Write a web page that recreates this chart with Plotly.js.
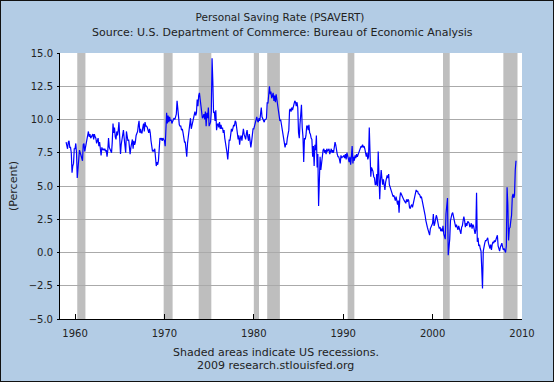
<!DOCTYPE html>
<html>
<head>
<meta charset="utf-8">
<script src="https://cdn.plot.ly/plotly-3.0.1.min.js"></script>
<style>
html,body{margin:0;padding:0;background:#fff;}
#wrap{position:relative;width:554px;height:382px;}
#chart{position:absolute;left:0;top:0;width:554px;height:382px;}
#frame{position:absolute;left:0;top:0;width:554px;height:382px;box-sizing:border-box;border:1px solid #111;pointer-events:none;}
</style>
</head>
<body>
<div id="wrap"><div id="chart"></div><div id="frame"></div></div>
<script>
// Monthly personal saving rate (percent), Jan 1959 .. May 2009
const startYear = 1959;
const savingRate = [
  8.3, 7.9, 7.8, 8.3, 8.4, 7.9, 7.9, 7.5, 6.0, 6.5, 6.7, 7.8,   // 1959
  7.8, 8.2, 7.5, 5.6, 6.3, 7.5, 7.7, 7.5, 7.3, 7.1, 6.9, 8.1,   // 1960
  8.2, 7.6, 7.9, 8.0, 8.3, 8.8, 9.1, 8.7, 8.9, 8.6, 8.7, 8.8,   // 1961
  8.9, 8.5, 8.9, 8.7, 8.6, 8.2, 8.5, 8.6, 8.0, 8.3, 7.8, 7.3,   // 1962
  7.9, 7.7, 7.8, 7.7, 7.8, 7.6, 7.7, 7.2, 7.7, 8.6, 7.9, 7.8,   // 1963
  7.7, 7.5, 8.3, 9.7, 9.0, 9.4, 8.7, 8.5, 9.1, 8.8, 9.2, 9.8,   // 1964
  8.6, 7.4, 8.1, 8.6, 8.9, 9.2, 8.6, 8.0, 7.5, 9.1, 8.7, 8.4,   // 1965
  8.5, 7.6, 7.4, 7.9, 8.2, 8.5, 7.8, 8.4, 8.1, 8.3, 8.8, 8.9,   // 1966
  9.1, 9.6, 9.9, 9.0, 9.3, 9.0, 9.0, 9.4, 9.7, 9.1, 9.8, 9.5,   // 1967
  9.5, 9.4, 9.2, 9.0, 9.3, 9.0, 8.4, 7.7, 7.6, 7.7, 7.6, 7.8,   // 1968
  7.2, 6.5, 6.8, 6.6, 6.9, 7.9, 8.6, 8.5, 8.6, 8.4, 8.6, 8.5,   // 1969
  8.4, 8.0, 9.0, 10.5, 9.7, 10.3, 9.8, 10.2, 9.9, 10.0, 9.7, 10.0, // 1970
  10.0, 10.1, 10.0, 10.2, 10.4, 11.4, 10.6, 10.2, 9.6, 9.5, 9.5, 9.2, // 1971
  9.3, 9.0, 8.6, 8.3, 8.3, 7.7, 7.2, 8.2, 8.6, 9.2, 9.5, 10.1,  // 1972
  9.3, 9.6, 9.9, 10.0, 10.2, 10.6, 10.3, 10.5, 11.5, 11.0, 11.8, 12.0, // 1973
  11.5, 11.0, 10.5, 10.1, 10.2, 10.4, 10.0, 10.6, 9.5, 10.5, 10.1, 10.9, // 1974
  9.5, 9.7, 9.8, 10.6, 14.6, 12.9, 10.5, 10.6, 9.9, 10.7, 9.2, 9.6, // 1975
  9.7, 9.4, 9.8, 9.3, 9.6, 9.3, 9.4, 9.0, 9.2, 8.6, 8.3, 8.0,   // 1976
  7.5, 7.0, 8.2, 8.5, 8.4, 8.8, 9.3, 9.1, 9.4, 9.6, 9.5, 9.9,   // 1977
  9.8, 9.3, 9.0, 8.5, 8.8, 8.1, 8.6, 8.8, 8.4, 9.0, 9.3, 8.9,   // 1978
  8.7, 8.5, 8.9, 9.2, 8.7, 8.4, 8.9, 8.2, 7.9, 8.3, 8.9, 9.3,   // 1979
  9.3, 9.5, 9.8, 10.0, 10.2, 9.9, 9.8, 10.1, 9.9, 10.4, 10.9, 10.2, // 1980
  10.1, 9.9, 9.8, 10.0, 10.0, 10.1, 11.3, 11.2, 11.8, 12.5, 11.9, 12.1, // 1981
  11.6, 11.8, 12.0, 11.4, 11.8, 11.3, 11.9, 11.5, 11.0, 10.6, 10.0, 9.9, // 1982
  10.0, 9.6, 9.3, 9.0, 8.6, 8.3, 7.9, 8.2, 8.1, 8.6, 8.9, 9.2,  // 1983
  10.7, 10.8, 10.6, 10.9, 10.7, 11.0, 11.1, 11.4, 11.3, 11.0, 11.3, 10.9, // 1984
  9.0, 8.6, 9.6, 10.2, 11.1, 9.4, 8.7, 6.8, 8.6, 8.5, 8.8, 9.5,  // 1985
  9.5, 9.2, 9.6, 9.0, 8.9, 8.6, 8.5, 7.2, 8.0, 6.5, 8.1, 7.7,   // 1986
  8.8, 6.4, 7.4, 3.5, 6.3, 7.2, 6.2, 6.8, 7.4, 7.7, 7.8, 7.5,   // 1987
  7.7, 7.4, 7.8, 7.6, 7.7, 7.8, 7.4, 7.6, 7.8, 7.5, 7.7, 7.5,   // 1988
  8.0, 8.3, 8.1, 7.6, 7.4, 7.2, 7.2, 7.0, 6.7, 7.3, 7.1, 7.2,   // 1989
  7.2, 7.3, 7.1, 7.4, 7.0, 7.5, 7.3, 7.1, 6.8, 7.2, 6.6, 7.2,   // 1990
  8.0, 6.7, 7.2, 6.9, 7.3, 7.1, 7.4, 7.2, 7.4, 7.5, 7.7, 7.9,   // 1991
  8.0, 7.9, 8.1, 7.9, 8.0, 7.8, 7.6, 7.2, 7.5, 7.0, 7.2, 9.4,   // 1992
  7.5, 5.7, 6.4, 6.3, 6.1, 5.7, 5.6, 5.1, 5.1, 5.9, 5.0, 7.6,   // 1993
  4.1, 4.0, 5.4, 6.2, 5.6, 5.1, 5.5, 4.9, 4.7, 5.3, 5.5, 5.8,   // 1994
  5.6, 5.9, 5.1, 4.9, 4.8, 4.6, 4.3, 4.2, 4.3, 4.1, 3.9, 4.2,   // 1995
  4.0, 3.6, 3.9, 3.0, 4.1, 4.5, 4.4, 4.2, 4.1, 4.0, 3.9, 3.8,   // 1996
  3.7, 4.0, 3.8, 4.0, 3.9, 3.4, 3.3, 3.5, 3.6, 3.4, 3.7, 3.8,   // 1997
  4.2, 4.6, 4.7, 4.6, 4.6, 4.4, 4.4, 4.3, 4.1, 4.2, 3.9, 3.7,   // 1998
  3.5, 3.3, 2.8, 2.4, 2.0, 1.9, 1.7, 1.5, 1.3, 1.8, 1.9, 2.1,   // 1999
  2.2, 2.9, 2.0, 2.2, 2.6, 2.8, 2.6, 2.4, 2.0, 1.8, 1.9, 1.6,   // 2000
  1.8, 1.6, 2.0, 1.4, 1.2, 1.0, 2.9, 4.0, 4.1, -0.2, 0.4, 1.0,  // 2001
  2.4, 2.8, 2.9, 3.0, 2.7, 2.4, 2.2, 1.9, 2.1, 1.9, 1.7, 2.0,   // 2002
  1.8, 1.7, 1.4, 1.9, 2.0, 2.4, 2.7, 2.4, 1.9, 2.2, 2.0, 2.3,   // 2003
  2.3, 2.2, 1.9, 2.0, 2.2, 1.8, 2.1, 2.0, 1.7, 1.4, 1.7, 4.5,   // 2004
  0.8, 1.1, 0.5, 0.6, 0.3, 0.1, -1.2, -2.7, 0.1, 0.5, 0.7, 0.9, // 2005
  0.9, 1.0, 1.1, 0.7, 0.5, 0.3, 0.6, 0.2, 0.6, 0.8, 0.7, 0.9,   // 2006
  0.8, 1.0, 1.2, 1.3, 0.5, 0.2, 0.1, 0.4, 0.6, 0.7, 0.4, 0.2,   // 2007
  0.3, 0.2, 0.0, 0.5, 4.9, 3.6, 0.9, 1.8, 1.9, 2.4, 2.8, 4.2,   // 2008
  4.4, 4.1, 4.3, 6.2, 6.9                                       // 2009
];

// NBER recessions (shaded)
const recessionStart = ['1960-04-01','1969-12-01','1973-11-01','1980-01-01','1981-07-01','1990-07-01','2001-03-01','2007-12-01'];
const recessionEnd   = ['1961-03-01','1970-12-01','1975-04-01','1980-08-01','1982-12-01','1991-04-01','2001-12-01','2009-07-01'];

const yTicks = [-5, -2.5, 0, 2.5, 5, 7.5, 10, 12.5, 15];
const xTickYears = ['1960','1970','1980','1990','2000','2010'];

const dates = savingRate.map((v, i) => {
  const y = startYear + Math.floor(i / 12);
  const m = (i % 12) + 1;
  return y + '-' + String(m).padStart(2, '0') + '-01';
});

const bg = 'rgb(179,204,229)';
const txt = '#222';
const fontFam = 'DejaVu Sans, Verdana, sans-serif';

const trace = {
  x: dates, y: savingRate, type: 'scatter', mode: 'lines',
  line: {color: '#0000ff', width: 1.2},
  hoverinfo: 'x+y'
};

const shapes = recessionStart.map((s, i) => ({
  type: 'rect', xref: 'x', yref: 'paper', x0: s, x1: recessionEnd[i], y0: 0, y1: 1,
  fillcolor: 'rgb(190,190,190)', line: {width: 0}, layer: 'between'
}));

const layout = {
  width: 554, height: 382,
  paper_bgcolor: bg, plot_bgcolor: '#ffffff',
  margin: {l: 60, r: 32, t: 53, b: 63},
  showlegend: false,
  font: {family: fontFam, size: 10, color: txt},
  title: {
    text: 'Personal Saving Rate (PSAVERT)',
    font: {family: fontFam, size: 10.5, color: txt},
    x: 280/554, xref: 'container', xanchor: 'center',
    y: 1 - 17/382, yref: 'container', yanchor: 'middle'
  },
  xaxis: {
    type: 'date',
    range: ['1958-04-27', '2010-01-01'],
    tickvals: xTickYears.map(y => y + '-01-01'),
    ticktext: xTickYears,
    ticks: 'inside', ticklen: 5, tickcolor: '#000', tickwidth: 1,
    showline: true, linecolor: '#000', linewidth: 1,
    showgrid: false, zeroline: false,
    tickfont: {family: fontFam, size: 10, color: txt},
    ticklabelstandoff: 5
  },
  yaxis: {
    range: [-5, 15],
    tickvals: yTicks,
    tickformat: '.1f',
    ticks: 'outside', ticklen: 2, tickcolor: '#000', tickwidth: 1,
    showline: true, linecolor: '#000', linewidth: 1,
    showgrid: true, gridcolor: 'rgb(170,170,170)', gridwidth: 1,
    zeroline: false,
    tickfont: {family: fontFam, size: 10, color: txt},
    ticklabelstandoff: 2,
    title: {text: '(Percent)', font: {family: fontFam, size: 11, color: txt}, standoff: 8}
  },
  shapes: shapes,
  annotations: [
    {text: 'Source: U.S. Department of Commerce: Bureau of Economic Analysis',
     xref: 'paper', yref: 'paper', x: (282-60)/462, y: (319-32.5)/266,
     xanchor: 'center', yanchor: 'middle', showarrow: false,
     font: {family: fontFam, size: 11, color: txt}},
    {text: 'Shaded areas indicate US recessions.',
     xref: 'paper', yref: 'paper', x: (275.5-60)/462, y: (319-352)/266,
     xanchor: 'center', yanchor: 'middle', showarrow: false,
     font: {family: fontFam, size: 11, color: txt}},
    {text: '2009 research.stlouisfed.org',
     xref: 'paper', yref: 'paper', x: (275.5-60)/462, y: (319-365.5)/266,
     xanchor: 'center', yanchor: 'middle', showarrow: false,
     font: {family: fontFam, size: 11, color: txt}}
  ]
};

Plotly.newPlot('chart', [trace], layout, {displayModeBar: false, staticPlot: true});
</script>
</body>
</html>
